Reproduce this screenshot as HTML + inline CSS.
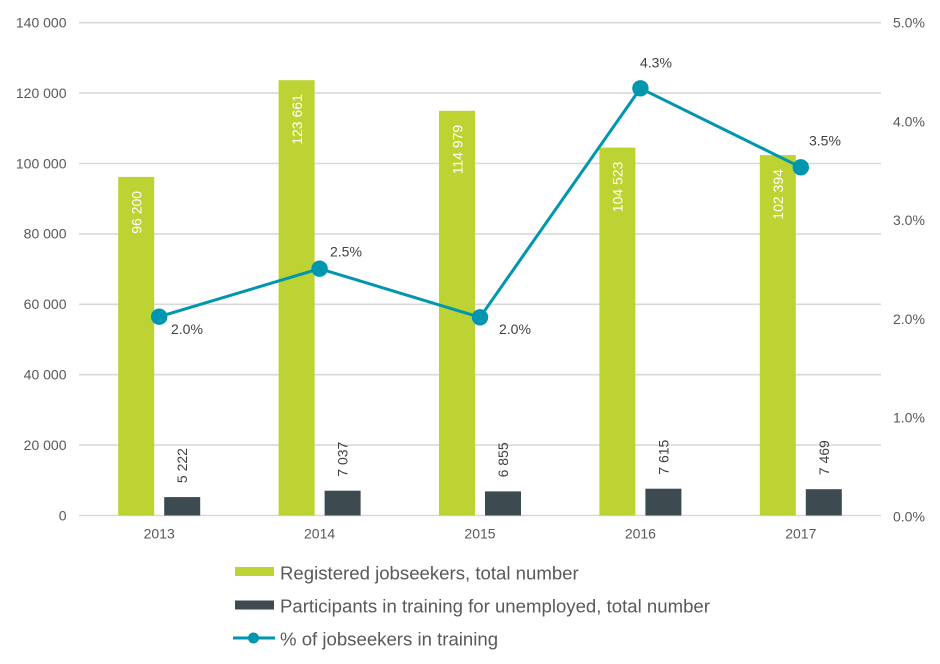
<!DOCTYPE html>
<html><head><meta charset="utf-8"><style>
html,body{margin:0;padding:0;background:#fff;}
svg{display:block;font-family:"Liberation Sans",Arial,sans-serif;}
</style></head><body>
<svg width="940" height="664" viewBox="0 0 940 664" xmlns="http://www.w3.org/2000/svg">
<g stroke="#d9d9d9" stroke-width="1.6">
<line x1="79" x2="881" y1="22.7" y2="22.7"/>
<line x1="79" x2="881" y1="93.1" y2="93.1"/>
<line x1="79" x2="881" y1="163.5" y2="163.5"/>
<line x1="79" x2="881" y1="233.9" y2="233.9"/>
<line x1="79" x2="881" y1="304.3" y2="304.3"/>
<line x1="79" x2="881" y1="374.7" y2="374.7"/>
<line x1="79" x2="881" y1="445.1" y2="445.1"/>
<line x1="79" x2="881" y1="515.5" y2="515.5"/>
</g>
<g font-size="14" fill="#595959" text-anchor="end">
<text x="66.5" y="27.5">140 000</text>
<text x="66.5" y="98">120 000</text>
<text x="66.5" y="168.5">100 000</text>
<text x="66.5" y="238.5">80 000</text>
<text x="66.5" y="309">60 000</text>
<text x="66.5" y="379.5">40 000</text>
<text x="66.5" y="450">20 000</text>
<text x="66.5" y="520.5">0</text>
</g>
<g font-size="14" fill="#595959">
<text x="893" y="27.5">5.0%</text>
<text x="893" y="126.3">4.0%</text>
<text x="893" y="225.1">3.0%</text>
<text x="893" y="323.9">2.0%</text>
<text x="893" y="422.7">1.0%</text>
<text x="893" y="521.5">0.0%</text>
</g>
<g font-size="14" fill="#595959" text-anchor="middle">
<text x="159.2" y="538.5">2013</text>
<text x="319.6" y="538.5">2014</text>
<text x="480" y="538.5">2015</text>
<text x="640.4" y="538.5">2016</text>
<text x="800.8" y="538.5">2017</text>
</g>
<g fill="#bcd333">
<rect x="118.2" y="176.9" width="36" height="338.6"/>
<rect x="278.6" y="80.2" width="36" height="435.3"/>
<rect x="439" y="110.8" width="36" height="404.7"/>
<rect x="599.4" y="147.6" width="36" height="367.9"/>
<rect x="759.8" y="155.1" width="36" height="360.4"/>
</g>
<g fill="#3d4a50">
<rect x="164.2" y="497.1" width="36" height="18.4"/>
<rect x="324.6" y="490.7" width="36" height="24.8"/>
<rect x="485" y="491.4" width="36" height="24.1"/>
<rect x="645.4" y="488.7" width="36" height="26.8"/>
<rect x="805.8" y="489.2" width="36" height="26.3"/>
</g>
<g font-size="14" fill="#ffffff" text-anchor="end">
<text transform="translate(141.5,190.9) rotate(-90)">96 200</text>
<text transform="translate(301.9,94.2) rotate(-90)">123 661</text>
<text transform="translate(462.3,124.8) rotate(-90)">114 979</text>
<text transform="translate(622.7,161.6) rotate(-90)">104 523</text>
<text transform="translate(783.1,169.1) rotate(-90)">102 394</text>
</g>
<g font-size="14" fill="#404040" text-anchor="start">
<text transform="translate(187.2,483.1) rotate(-90)">5 222</text>
<text transform="translate(347.6,476.7) rotate(-90)">7 037</text>
<text transform="translate(508,477.4) rotate(-90)">6 855</text>
<text transform="translate(668.4,474.7) rotate(-90)">7 615</text>
<text transform="translate(828.8,475.2) rotate(-90)">7 469</text>
</g>
<polyline points="159.2,316.7 319.6,268.7 480,317.3 640.4,88.3 800.8,167.3" fill="none" stroke="#0096b0" stroke-width="3" stroke-linejoin="round"/>
<g fill="#0096b0">
<circle cx="159.2" cy="316.7" r="8.2"/>
<circle cx="319.6" cy="268.7" r="8.2"/>
<circle cx="480" cy="317.3" r="8.2"/>
<circle cx="640.4" cy="88.3" r="8.2"/>
<circle cx="800.8" cy="167.3" r="8.2"/>
</g>
<g font-size="14" fill="#404040">
<text x="171" y="334">2.0%</text>
<text x="330" y="256.7">2.5%</text>
<text x="499" y="334">2.0%</text>
<text x="640" y="67.5">4.3%</text>
<text x="809" y="145.7">3.5%</text>
</g>
<rect x="235" y="567" width="39" height="9" fill="#bcd333"/>
<rect x="235" y="600.5" width="39" height="9" fill="#3d4a50"/>
<line x1="233" x2="275" y1="638" y2="638" stroke="#0096b0" stroke-width="3"/>
<circle cx="253.5" cy="638" r="5.5" fill="#0096b0"/>
<g font-size="18.6" fill="#595959">
<text x="280" y="579.3">Registered jobseekers, total number</text>
<text x="280" y="612.3">Participants in training for unemployed, total number</text>
<text x="280" y="645.3">% of jobseekers in training</text>
</g>
</svg>
</body></html>
